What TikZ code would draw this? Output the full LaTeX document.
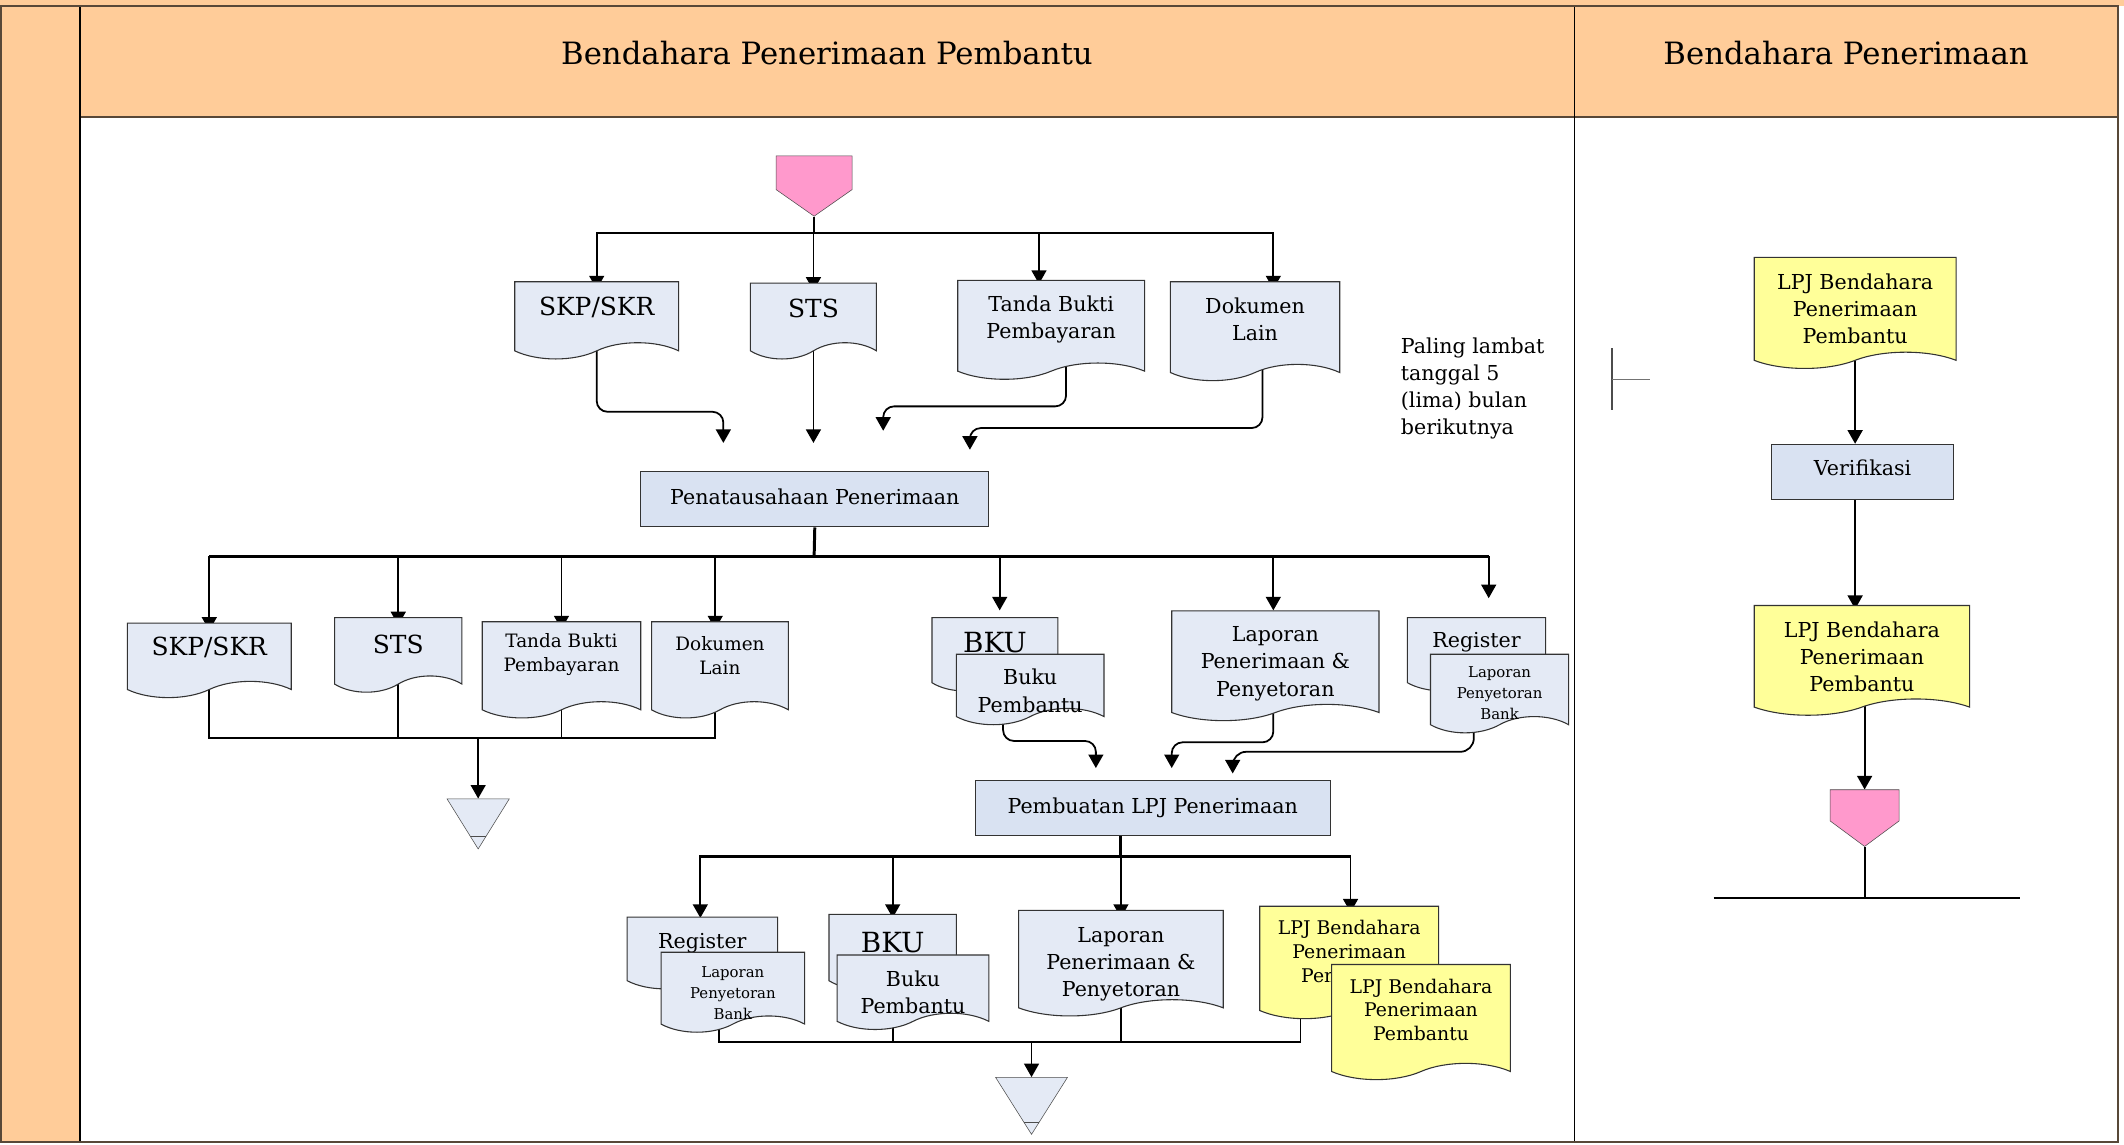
\documentclass[tikz,border=0pt]{standalone}
\usepackage{fontspec}
\setmainfont{DejaVu Serif}
\usepackage{tikz}
\usetikzlibrary{arrows.meta,shapes.symbols,shapes.geometric,backgrounds}

\definecolor{laneorange}{RGB}{255,204,153}
\definecolor{laneline}{RGB}{88,72,56}
\definecolor{docblue}{RGB}{228,234,245}
\definecolor{procblue}{RGB}{217,226,242}
\definecolor{lpjyellow}{RGB}{255,255,153}
\definecolor{termpink}{RGB}{255,153,204}

\begin{document}
\begin{tikzpicture}[
  x=1pt, y=-1pt,
  lane/.style={font=\fontsize{22.7}{27}\selectfont},
  proc/.style={draw=black!80, line width=0.8pt, fill=procblue, minimum height=41, inner sep=0pt,
    font=\fontsize{15.2}{20}\selectfont},
  doc/.style={shape=tape, tape bend top=none, tape bend bottom=in and out,
    tape bend height=12, draw=black!80, line width=0.8pt, fill=docblue, inner sep=0pt},
  lpj/.style={doc, fill=lpjyellow},
  offpage/.style={shape=signal, signal to=south, signal pointer angle=110,
    draw=black!70, fill=termpink, inner sep=0pt},
  archive/.style={isosceles triangle, shape border rotate=-90,
    isosceles triangle stretches, draw=black!70, fill=docblue, inner sep=0pt,
    path picture={\draw[black!70] ([yshift=9pt]path picture bounding box.south west)
      -- ([yshift=9pt]path picture bounding box.south east);}},
  tA/.style={font=\fontsize{18.4}{22}\selectfont},
  tB/.style={font=\fontsize{15.2}{20}\selectfont, align=center},
  tC/.style={font=\fontsize{13.6}{18}\selectfont, align=center},
  tD/.style={font=\fontsize{11}{15.5}\selectfont, align=center},
  tE/.style={font=\fontsize{20.5}{24}\selectfont},
  tF/.style={font=\fontsize{13.9}{17.5}\selectfont, align=center},
  flow/.style={-{Triangle[length=10pt, width=11pt]}, line width=1.3pt},
  link/.style={line width=1.3pt},
  busline/.style={line width=2.2pt}
]
  \useasboundingbox (0,0) rectangle (1568,845);

  % lanes
  \fill[laneorange] (0,0) rectangle (1568,4.6);
  \fill[laneorange] (0,4.6) rectangle (59,843);
  \fill[laneorange] (59,4.6) rectangle (1563.6,86.4);
  \draw[laneline, line width=1.5pt] (59,86.4) -- (1563.6,86.4);
  \draw[line width=0.8pt] (1162,4.6) -- (1162,843);
  \draw[line width=1.3pt] (59,4.6) -- (59,843);
  \draw[laneline, line width=1.5pt] (0.8,4.6) rectangle (1563.6,843);

  \node[lane] (laneA) at (610.5,39) {Bendahara Penerimaan Pembantu};
  \node[lane] (laneB) at (1362.8,39) {Bendahara Penerimaan};

  % Bendahara Penerimaan Pembantu
  \node[offpage, minimum width=56, minimum height=25] (startP) at (601,127.5) {};

  \node[doc, minimum width=121, minimum height=57, label={[tA, yshift=3.5pt]center:SKP/SKR}] (skpA) at (440.5,230.5) {};
  \node[doc, minimum width=93, minimum height=56, label={[tA, yshift=3pt]center:STS}] (stsA) at (600.5,231) {};
  \node[doc, minimum width=138, minimum height=73, label={[tB, yshift=1.5pt]center:Tanda Bukti\\Pembayaran}] (tandaA) at (776,237.5) {};
  \node[doc, minimum width=125, minimum height=73, label={[tB, yshift=2.5pt]center:Dokumen\\Lain}] (dokA) at (926.5,238.5) {};

  \node[proc, minimum width=257, text depth=4pt] (pena) at (601.5,368.5) {Penatausahaan Penerimaan};

  \node[doc, minimum width=121, minimum height=55, label={[tA, yshift=3.5pt]center:SKP/SKR}] (skpB) at (154.5,481.5) {};
  \node[doc, minimum width=94, minimum height=55, label={[tA, yshift=1.5pt]center:STS}] (stsB) at (294,477.5) {};
  \node[doc, minimum width=117, minimum height=71, label={[tC, yshift=5.5pt]center:Tanda Bukti\\Pembayaran}] (tandaB) at (414.5,488.5) {};
  \node[doc, minimum width=101, minimum height=71, label={[tC, yshift=4.5pt]center:Dokumen\\Lain}] (dokB) at (531.5,488.5) {};
  \node[archive, minimum width=46, minimum height=37] (mergeA) at (353,602.5) {};

  \node[doc, minimum width=93, minimum height=54, label={[tE, yshift=3pt]center:BKU}] (bkuA) at (734.5,477) {};
  \node[doc, minimum width=109, minimum height=52, label={[tB, yshift=-7pt]center:Buku\\Pembantu}] (bukuA) at (760.5,503) {};
  \node[doc, minimum width=153, minimum height=81, label={[tB, yshift=-4.5pt]center:Laporan\\Penerimaan \&\\Penyetoran}] (lapA) at (941.5,485.5) {};
  \node[doc, minimum width=102, minimum height=54, label={[tB, yshift=3pt]center:Register}] (regA) at (1090,477) {};
  \node[doc, minimum width=102, minimum height=58, label={[tD, yshift=-6pt]center:Laporan\\Penyetoran\\Bank}] (bankA) at (1107,506) {};

  \node[proc, minimum width=262] (lpjproc) at (851,596.5) {Pembuatan LPJ Penerimaan};

  \node[doc, minimum width=111, minimum height=53, label={[tB, yshift=1.5pt]center:Register}] (regB) at (518.5,697.5) {};
  \node[doc, minimum width=106, minimum height=59, label={[tD, yshift=-7pt]center:Laporan\\Penyetoran\\Bank}] (bankB) at (541,726.5) {};
  \node[doc, minimum width=94, minimum height=55, label={[tE, yshift=0.5pt]center:BKU}] (bkuB) at (659,696.5) {};
  \node[doc, minimum width=112, minimum height=55, label={[tB, yshift=-6pt]center:Buku\\Pembantu}] (bukuB) at (674,726.5) {};
  \node[doc, minimum width=151, minimum height=78, label={[tB, yshift=-7pt]center:Laporan\\Penerimaan \&\\Penyetoran}] (lapB) at (827.5,705) {};
  \node[lpj, minimum width=132, minimum height=83, label={[tF, yshift=2pt]center:LPJ Bendahara\\Penerimaan\\Pembantu}] (lpjA) at (996,704.5) {};
  \node[lpj, minimum width=132, minimum height=85, label={[tF, yshift=3pt]center:LPJ Bendahara\\Penerimaan\\Pembantu}] (lpjB) at (1049,748.5) {};
  \node[archive, minimum width=53, minimum height=42] (mergeB) at (761.5,810) {};

  \node[tB, align=left, anchor=north west, inner sep=0pt] (note) at (1034,249) {Paling lambat\\tanggal 5\\(lima) bulan\\berikutnya};

  % Bendahara Penerimaan
  \node[lpj, minimum width=149, minimum height=82, label={[tB, yshift=-3pt]center:LPJ Bendahara\\Penerimaan\\Pembantu}] (lpjR) at (1369.5,225) {};
  \node[proc, minimum width=134, text depth=6pt] (verif) at (1375,348.5) {Verifikasi};
  \node[lpj, minimum width=159, minimum height=81, label={[tB, yshift=-3.5pt]center:LPJ Bendahara\\Penerimaan\\Pembantu}] (lpjRb) at (1374.5,481.5) {};
  \node[offpage, minimum width=51, minimum height=23, signal pointer angle=107] (endP) at (1376.5,594.5) {};

  \coordinate (fanA) at (601,172);
  \coordinate (fanB) at (601,411);
  \coordinate (fanC) at (827,632);
  \coordinate (inA) at (534,327);
  \coordinate (inB) at (600.5,327);
  \coordinate (inC) at (652,318);
  \coordinate (inD) at (716,332);
  \coordinate (inE) at (809,567);
  \coordinate (inF) at (865,567);
  \coordinate (inG) at (910,571);
  \coordinate (joinA) at (353,545);
  \coordinate (joinB) at (761.5,769);
  \coordinate (baseL) at (1265,663);
  \coordinate (baseR) at (1491,663);
  \coordinate (tick) at (1190,280);

  \begin{scope}[on background layer]
    % ke dokumen sumber
    \draw[link] (startP.south) -- (fanA);
    \draw[link] (skpA.north |- fanA) -- ([xshift=13.5pt]dokA.north |- fanA);
    \draw[flow] (fanA) -| ([yshift=-6pt]skpA.north);
    \draw[flow] (fanA) -| ([yshift=-6pt]stsA.north);
    \draw[flow] (fanA) -| ([xshift=-9pt, yshift=-3pt]tandaA.north);
    \draw[flow] (fanA) -| ([xshift=13.5pt, yshift=-6pt]dokA.north);

    \draw[flow, rounded corners=8pt] (skpA.south) |- ([yshift=23pt]inA) -- (inA);
    \draw[flow] (stsA.south) -- (inB);
    \draw[flow, rounded corners=8pt] ([xshift=11pt, yshift=6pt]tandaA.south) |- ([yshift=18pt]inC) -- (inC);
    \draw[flow, rounded corners=8pt] ([xshift=5.5pt, yshift=6pt]dokA.south) |- ([yshift=16pt]inD) -- (inD);

    % penatausahaan
    \draw[busline] (pena.south) -- (fanB);
    \draw[busline] (skpB.north |- fanB) -- ([xshift=9pt]regA.north |- fanB);
    \draw[flow] (fanB) -| ([yshift=-6pt]skpB.north);
    \draw[flow] (fanB) -| ([yshift=-6pt]stsB.north);
    \draw[flow] (fanB) -| ([yshift=-6pt]tandaB.north);
    \draw[flow] (fanB) -| ([xshift=-3.5pt, yshift=-6pt]dokB.north);
    \draw[flow] (fanB) -| ([xshift=3.5pt, yshift=5pt]bkuA.north);
    \draw[flow] (fanB) -| ([xshift=-1.5pt]lapA.north);
    \draw[flow] (fanB) -| ([xshift=9pt, yshift=14pt]regA.north);

    \draw[link] (skpB.south) |- (joinA);
    \draw[link] (stsB.south) |- (joinA);
    \draw[link] (tandaB.south) |- (joinA);
    \draw[link] ([xshift=-3.5pt]dokB.south) |- (joinA);
    \draw[flow] (joinA) -- (mergeA.north);

    \draw[flow, rounded corners=8pt] ([xshift=-20pt, yshift=6pt]bukuA.south) |- ([yshift=20pt]inE) -- (inE);
    \draw[flow, rounded corners=8pt] ([xshift=-1.5pt]lapA.south) |- ([yshift=19pt]inF) -- (inF);
    \draw[flow, rounded corners=10pt] ([xshift=-19pt, yshift=6pt]bankA.south) |- ([yshift=16pt]inG) -- (inG);

    % pembuatan LPJ
    \draw[busline] ([xshift=-24pt]lpjproc.south) -- (fanC);
    \draw[busline] ([xshift=-1.5pt]regB.north |- fanC) -- ([xshift=1pt]lpjA.north |- fanC);
    \draw[flow] (fanC) -| ([xshift=-1.5pt, yshift=-1pt]regB.north);
    \draw[flow] (fanC) -| ([yshift=-3pt]bkuB.north);
    \draw[flow] (fanC) -| ([yshift=-6pt]lapB.north);
    \draw[flow] (fanC) -| ([xshift=1pt, yshift=-5pt]lpjA.north);

    \draw[link] ([xshift=-10pt, yshift=6pt]bankB.south) |- (joinB);
    \draw[link] ([xshift=-15pt, yshift=6pt]bukuB.south) |- (joinB);
    \draw[link] (lapB.south) |- (joinB);
    \draw[link] ([xshift=-36pt, yshift=6pt]lpjA.south) |- (joinB);
    \draw[flow] (joinB) -- (mergeB.north);

    % verifikasi
    \draw[flow] (lpjR.south) -- (lpjR.south |- verif.north);
    \draw[flow] (verif.south -| lpjR.south) -- ([yshift=-3pt]lpjRb.north -| lpjR.south);
    \draw[flow] (endP.north |- lpjRb.south) -- (endP.north);
    \draw[link] (endP.south) -- (endP.south |- baseL);
    \draw[line width=0.9pt] (baseL) -- (baseR);

    \draw[black!70, line width=1pt] (1190,257) -- (1190,303);
    \draw[black!55, line width=1pt] (tick) -- ++(28,0);
  \end{scope}
\end{tikzpicture}
\end{document}
